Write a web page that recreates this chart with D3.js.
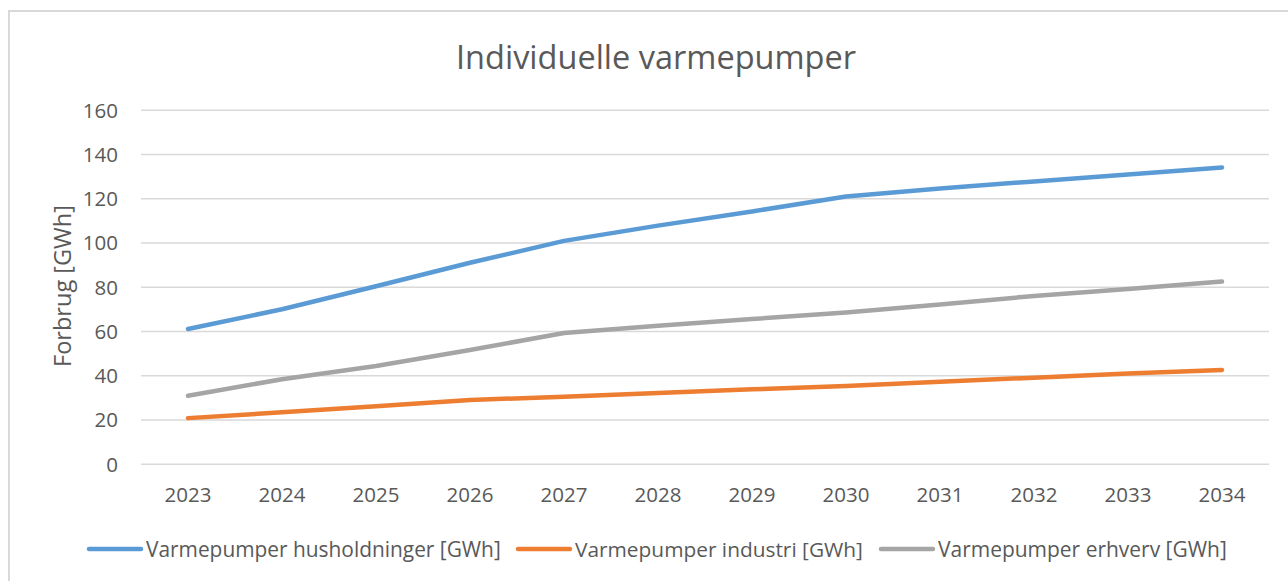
<!DOCTYPE html>
<html>
<head>
<meta charset="utf-8">
<script src="https://cdn.jsdelivr.net/npm/d3@7/dist/d3.min.js"></script>
<style>
  html, body { margin: 0; padding: 0; background: #fff; }
  svg { display: block; font-family: "Open Sans", "Noto Sans", sans-serif; }
</style>
</head>
<body>
<svg id="chart" width="1288" height="581"></svg>
<script>
// data
const years = ['2023', '2024', '2025', '2026', '2027', '2028', '2029', '2030', '2031', '2032', '2033', '2034'];
const husholdninger = [60.9, 69.8, 80.2, 90.8, 100.7, 107.6, 114.0, 120.8, 124.4, 127.6, 130.7, 133.9];
const industri = [20.6, 23.2, 26.0, 28.8, 30.3, 31.9, 33.6, 35.1, 37.0, 38.9, 40.8, 42.4];
const erhverv = [30.7, 38.2, 44.2, 51.4, 59.1, 62.4, 65.4, 68.3, 72.0, 75.8, 79.0, 82.3];
const yTicks = [0, 20, 40, 60, 80, 100, 120, 140, 160];

const seriesNames = ['Varmepumper husholdninger [GWh]', 'Varmepumper industri [GWh]', 'Varmepumper erhverv [GWh]'];
const seriesValues = [husholdninger, industri, erhverv];
const seriesColors = ['#5b9bd5', '#ed7d31', '#a5a5a5'];

const svg = d3.select('svg#chart'),
    textColor = '#595959',
    gridColor = '#d9d9d9',
    lineWidth = 4.5,
    tickFontSize = 20.5;

// plot area
const plotLeft = 141,
    plotRight = 1269,
    plotTop = 109.7,
    plotBottom = 463.7;

const x = d3.scaleBand().domain(years).range([plotLeft, plotRight]);
const y = d3.scaleLinear().domain([0, 160]).range([plotBottom, plotTop]);

// make a text element fit a given width by adjusting its font size
function fitWidth(sel, target) {
    const node = sel.node();
    const fs = parseFloat(sel.attr('font-size'));
    const w = node.getComputedTextLength();
    sel.attr('font-size', fs * target / w);
}

// outer frame (only left and top edges visible in the crop)
svg.append('rect')
    .attr('x', 9).attr('y', 11)
    .attr('width', 1400).attr('height', 700)
    .attr('fill', 'none')
    .attr('stroke', gridColor)
    .attr('stroke-width', 2);

// title
const title = svg.append('text')
    .text('Individuelle varmepumper')
    .attr('x', 656).attr('y', 56)
    .attr('text-anchor', 'middle')
    .attr('dominant-baseline', 'central')
    .attr('font-size', 30)
    .attr('fill', textColor);
fitWidth(title, 400);

// gridlines + y labels
const yAxis = d3.axisLeft(y).tickValues(yTicks).tickSize(-(plotRight - plotLeft)).tickPadding(23);
const gy = svg.append('g')
    .attr('transform', `translate(${plotLeft},0)`)
    .call(yAxis)
    .attr('font-family', null)
    .attr('font-size', tickFontSize);
gy.select('.domain').remove();
gy.selectAll('.tick line').attr('stroke', gridColor).attr('stroke-width', 1.5);
gy.selectAll('.tick text')
    .attr('fill', textColor)
    .attr('dy', '0.36em');

// x labels
const xAxis = d3.axisBottom(x).tickSize(0).tickPadding(31);
const gx = svg.append('g')
    .attr('transform', `translate(0,${plotBottom})`)
    .call(xAxis)
    .attr('font-family', null)
    .attr('font-size', tickFontSize);
gx.select('.domain').remove();
gx.selectAll('.tick text')
    .attr('fill', textColor)
    .attr('dy', '0.36em');

// y axis title
const yTitle = svg.append('text')
    .text('Forbrug [GWh]')
    .attr('transform', 'translate(62,286) rotate(-90)')
    .attr('text-anchor', 'middle')
    .attr('dominant-baseline', 'central')
    .attr('font-size', 20)
    .attr('fill', textColor);
fitWidth(yTitle, 162);

// lines
const line = d3.line()
    .x((d, i) => x(years[i]) + x.bandwidth() / 2)
    .y(d => y(d));

seriesValues.forEach((vals, i) => {
    svg.append('path')
        .datum(vals)
        .attr('d', line)
        .attr('fill', 'none')
        .attr('stroke', seriesColors[i])
        .attr('stroke-width', lineWidth)
        .attr('stroke-linecap', 'round')
        .attr('stroke-linejoin', 'round');
});

// legend
const legendY = 549,
    legendTextWidths = [355, 288, 289],
    legendLineLen = 52,
    legendStarts = [89, 518, 881];

seriesNames.forEach((name, i) => {
    const g = svg.append('g');
    g.append('line')
        .attr('x1', legendStarts[i]).attr('x2', legendStarts[i] + legendLineLen)
        .attr('y1', legendY).attr('y2', legendY)
        .attr('stroke', seriesColors[i])
        .attr('stroke-width', lineWidth)
        .attr('stroke-linecap', 'round');
    const t = g.append('text')
        .text(name)
        .attr('x', legendStarts[i] + legendLineLen + 5)
        .attr('y', legendY)
        .attr('dominant-baseline', 'central')
        .attr('font-size', 20)
        .attr('fill', textColor);
    fitWidth(t, legendTextWidths[i]);
});
</script>
</body>
</html>
